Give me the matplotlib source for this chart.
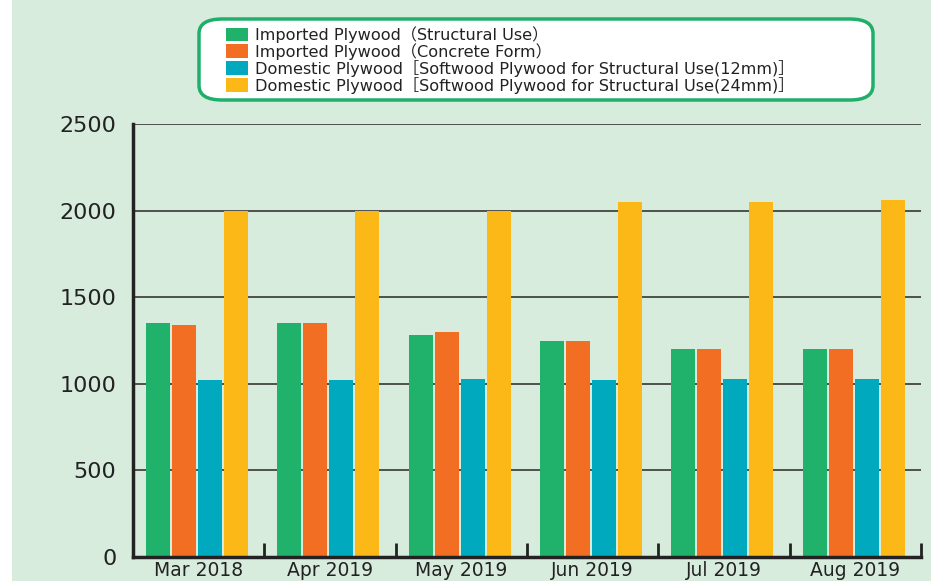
import numpy as np
import matplotlib.pyplot as plt
from matplotlib.patches import FancyBboxPatch, Rectangle

months = ["Mar 2018", "Apr 2019", "May 2019", "Jun 2019", "Jul 2019", "Aug 2019"]
labels = ["Imported Plywood（Structural Use）",
          "Imported Plywood（Concrete Form）",
          "Domestic Plywood［Softwood Plywood for Structural Use(12mm)］",
          "Domestic Plywood［Softwood Plywood for Structural Use(24mm)］"]
structural = [1350, 1350, 1280, 1250, 1200, 1200]
concrete = [1340, 1350, 1300, 1250, 1200, 1200]
soft12 = [1020, 1020, 1030, 1020, 1030, 1030]
soft24 = [2000, 2000, 2000, 2050, 2050, 2060]
yticks = [0, 500, 1000, 1500, 2000, 2500]

colors = ["#20B26B", "#F26E22", "#00A9BD", "#FCB817"]
bg = "#D8ECDE"

fig = plt.figure(figsize=(9.31, 5.81), dpi=100, facecolor=bg)
fig.patches.append(Rectangle((0, 0), 12 / 931, 1, transform=fig.transFigure,
                             facecolor="white", edgecolor="none", zorder=0))
ax = fig.add_axes([133 / 931, 24 / 581, 788 / 931, 433 / 581])
ax.set_facecolor(bg)

x = np.arange(len(months))
step = 0.198
width = 0.183
series = [structural, concrete, soft12, soft24]
handles = []
for k, vals in enumerate(series):
    b = ax.bar(x + (k - 1.5) * step - 0.012, vals, width, color=colors[k],
               zorder=3, label=labels[k])
    handles.append(b)

ax.set_xlim(-0.5, 5.5)
ax.set_ylim(0, 2500)
ax.set_yticks(yticks)
ax.set_yticklabels([str(v) for v in yticks], fontsize=16, color="#222222")
ax.tick_params(axis="y", length=0, pad=12)
ax.set_xticks(x)
ax.set_xticklabels(months, fontsize=13.5, color="#222222")
ax.tick_params(axis="x", which="major", length=0, pad=3)
ax.set_xticks(np.arange(0.5, 5.6, 1), minor=True)
ax.tick_params(axis="x", which="minor", direction="in", length=10, width=2,
               color="#222222")

ax.yaxis.grid(True, color="#444444", linewidth=1.3, zorder=1)
ax.set_axisbelow(True)
for s in ["top", "right"]:
    ax.spines[s].set_visible(False)
for s in ["left", "bottom"]:
    ax.spines[s].set_linewidth(2.5)
    ax.spines[s].set_color("#222222")
    ax.spines[s].set_zorder(4)

# rounded legend box
box = FancyBboxPatch((199 / 931, 1 - 100 / 581), 674 / 931, 81 / 581,
                     boxstyle="round,pad=0,rounding_size=0.025",
                     transform=fig.transFigure, facecolor="white",
                     edgecolor="#1FAF6B", linewidth=2.5, zorder=5)
fig.patches.append(box)
leg = fig.legend(handles=handles, labels=labels, loc="upper left",
                 bbox_to_anchor=(226 / 931, 1 - 26 / 581), frameon=False,
                 prop={"family": ["DejaVu Sans", "Noto Sans CJK JP"], "size": 11.6},
                 handlelength=1.35, handleheight=0.9, handletextpad=0.45,
                 labelspacing=0.0, borderpad=0, borderaxespad=0)
for t in leg.get_texts():
    t.set_color("#222222")
leg.set_zorder(6)

fig.savefig("out.png", dpi=100, facecolor=bg)
